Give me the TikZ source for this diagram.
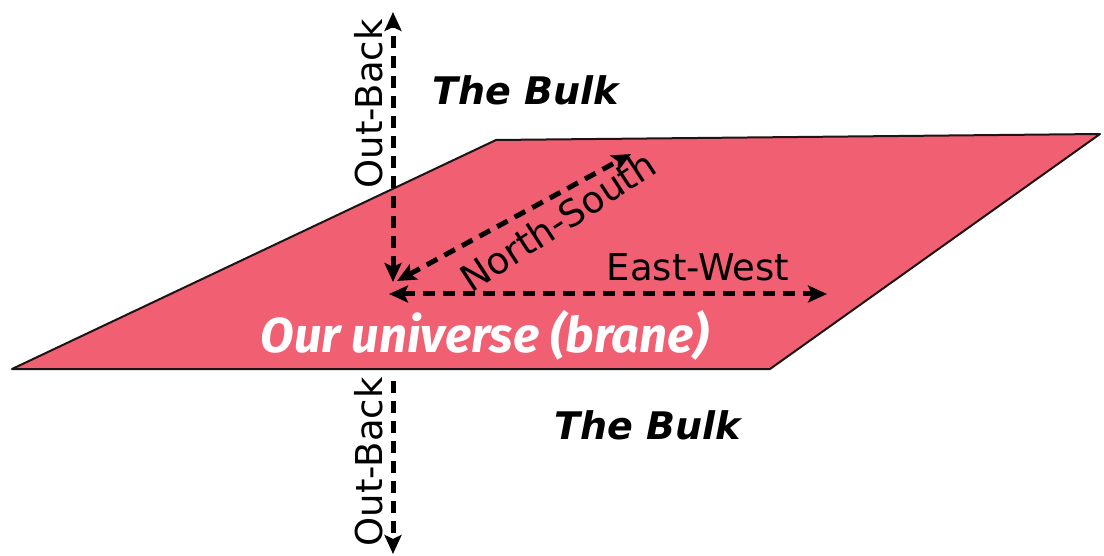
\documentclass[tikz,border=0pt]{standalone}
\usepackage{fontspec}
\setmainfont{DejaVu Sans}
\newfontfamily\firafont{Fira Sans}
\usetikzlibrary{arrows.meta}
\definecolor{branepink}{RGB}{240,96,114}
\definecolor{edgedark}{RGB}{30,20,22}
\tikzset{
  dimarrow/.style={line width=5pt, dash pattern=on 12pt off 8pt, black,
    arrows={-Stealth[length=19pt,width=17pt,inset=4pt]}},
  dimarrowboth/.style={dimarrow, arrows={Stealth[length=19pt,width=17pt,inset=4pt]-Stealth[length=19pt,width=17pt,inset=4pt]}},
  axislabel/.style={font=\fontsize{37}{40}\selectfont, inner sep=0pt},
  bulklabel/.style={font=\fontsize{38}{42}\selectfont\bfseries\itshape, inner sep=0pt},
}
\begin{document}
\begin{tikzpicture}[x=1pt,y=-1pt]
\useasboundingbox (0,0) rectangle (1104,556);
% brane corners
\coordinate (bl) at (12,369);
\coordinate (br) at (770,369);
\coordinate (tr) at (1100,134);
\coordinate (tl) at (496,140);
\filldraw[fill=branepink, draw=edgedark, line width=2pt, line join=round] (bl) -- (br) -- (tr) -- (tl) -- cycle;
% arrow end points
\coordinate (upTop) at (393,12);
\coordinate (upBot) at (393,282);
\coordinate (nsA) at (397,281);
\coordinate (nsB) at (631,154);
\coordinate (ewA) at (389,294);
\coordinate (ewB) at (827,294);
\coordinate (loTop) at (393,381);
\coordinate (loBot) at (393,554);
\draw[dimarrowboth] (upBot) -- (upTop);
\draw[dimarrowboth] (nsA) -- (nsB);
\draw[dimarrowboth] (ewA) -- (ewB);
\draw[dimarrow] (loTop) -- (loBot);
% labels
\node[axislabel, rotate=90] (ob1) at (369,104) {Out-Back};
\node[axislabel, rotate=90] (ob2) at (369,462) {Out-Back};
\node[axislabel, rotate=33] (ns) at (558,221) {North-South};
\node[axislabel] (ew) at (698,267) {East-West};
\node[bulklabel] (bulk1) at (526,90) {The Bulk};
\node[bulklabel] (bulk2) at (648,425) {The Bulk};
\node[inner sep=0pt, text=white, font=\firafont\fontsize{49}{52}\selectfont\bfseries\itshape] (our) at (485,335) {Our universe (brane)};
\end{tikzpicture}
\end{document}
